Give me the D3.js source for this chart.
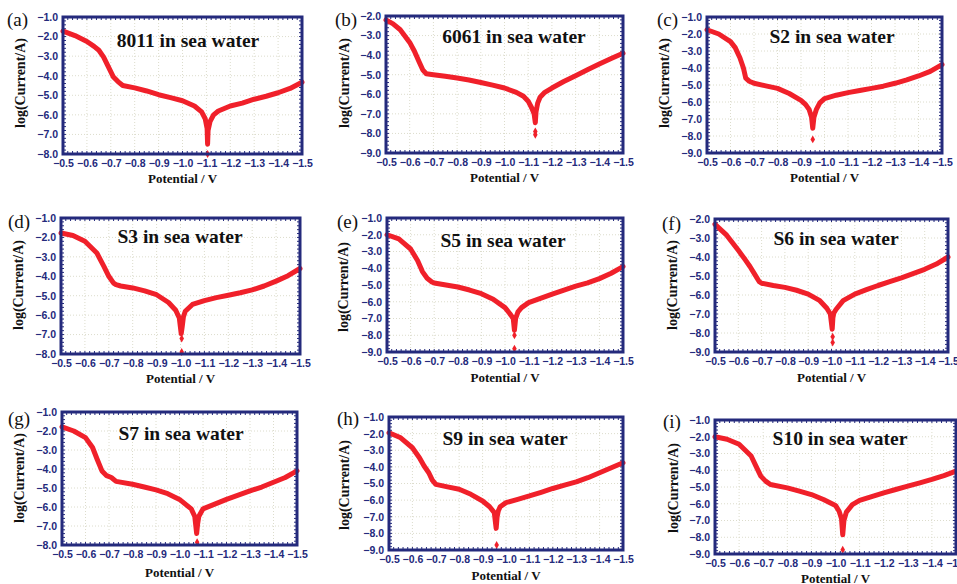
<!DOCTYPE html>
<html><head><meta charset="utf-8">
<script src="https://cdn.jsdelivr.net/npm/d3@7"></script>
<style>body{margin:0;background:#fff}svg{display:block}</style></head>
<body><svg id="c" width="957" height="584"></svg>
<script>
// ---------- data ----------
const xTicks = [-0.5,-0.6,-0.7,-0.8,-0.9,-1.0,-1.1,-1.2,-1.3,-1.4,-1.5];
const yTicks1to8 = [-1,-2,-3,-4,-5,-6,-7,-8];
const yTicks1to9 = [-1,-2,-3,-4,-5,-6,-7,-8,-9];
const yTicks2to9 = [-2,-3,-4,-5,-6,-7,-8,-9];
const panelLabels = ["(a)","(b)","(c)","(d)","(e)","(f)","(g)","(h)","(i)"];
const panelTitles = ["8011 in sea water","6061 in sea water","S2 in sea water","S3 in sea water","S5 in sea water","S6 in sea water","S7 in sea water","S9 in sea water","S10 in sea water"];

const potA = [-0.5,-0.55,-0.6,-0.63,-0.65,-0.67,-0.69,-0.71,-0.73,-0.75,-0.8,-0.85,-0.9,-0.95,-1.0,-1.05,-1.08,-1.095,-1.103,-1.105,-1.107,-1.115,-1.13,-1.15,-1.2,-1.25,-1.3,-1.35,-1.4,-1.45,-1.5];
const curA = [-1.72,-1.95,-2.25,-2.5,-2.7,-3.05,-3.55,-4.05,-4.3,-4.5,-4.62,-4.78,-4.97,-5.12,-5.28,-5.55,-5.85,-6.2,-6.7,-7.5,-6.8,-6.35,-6.0,-5.8,-5.55,-5.4,-5.2,-5.05,-4.87,-4.65,-4.33];
const outPotA = [-1.105], outCurA = [-8.0];

const potB = [-0.5,-0.53,-0.56,-0.6,-0.62,-0.64,-0.655,-0.67,-0.7,-0.75,-0.8,-0.85,-0.9,-0.95,-1.0,-1.05,-1.08,-1.1,-1.115,-1.125,-1.13,-1.133,-1.14,-1.15,-1.17,-1.2,-1.25,-1.3,-1.35,-1.4,-1.45,-1.5];
const curB = [-2.2,-2.4,-2.7,-3.35,-3.8,-4.35,-4.75,-4.95,-5.0,-5.08,-5.17,-5.27,-5.4,-5.53,-5.68,-5.9,-6.1,-6.35,-6.7,-7.0,-7.45,-6.9,-6.45,-6.15,-5.9,-5.68,-5.35,-5.05,-4.75,-4.45,-4.17,-3.9];
const outPotB = [-1.13,-1.13], outCurB = [-7.9,-8.07];

const potC = [-0.5,-0.55,-0.6,-0.62,-0.64,-0.655,-0.665,-0.68,-0.7,-0.75,-0.8,-0.85,-0.9,-0.92,-0.935,-0.945,-0.95,-0.955,-0.965,-0.98,-1.0,-1.05,-1.1,-1.15,-1.2,-1.25,-1.3,-1.35,-1.4,-1.45,-1.5];
const curC = [-1.75,-2.0,-2.45,-2.8,-3.4,-4.0,-4.6,-4.78,-4.9,-5.05,-5.2,-5.5,-5.9,-6.15,-6.45,-6.9,-7.55,-6.9,-6.45,-6.05,-5.8,-5.6,-5.45,-5.32,-5.2,-5.07,-4.9,-4.7,-4.47,-4.2,-3.8];
const outPotC = [-0.95], outCurC = [-8.2];

const potD = [-0.5,-0.55,-0.6,-0.65,-0.68,-0.7,-0.72,-0.73,-0.75,-0.8,-0.85,-0.9,-0.95,-0.98,-0.995,-1.003,-1.007,-1.012,-1.02,-1.05,-1.1,-1.15,-1.2,-1.25,-1.3,-1.35,-1.4,-1.45,-1.5];
const curD = [-1.77,-1.9,-2.2,-2.8,-3.5,-4.0,-4.35,-4.43,-4.5,-4.6,-4.75,-4.95,-5.35,-5.75,-6.15,-6.95,-6.6,-6.1,-5.8,-5.45,-5.25,-5.1,-4.98,-4.85,-4.7,-4.5,-4.25,-3.97,-3.6];
const outPotD = [-1.005,-1.005], outCurD = [-7.2,-7.9];

const potE = [-0.5,-0.55,-0.6,-0.63,-0.65,-0.67,-0.69,-0.7,-0.75,-0.8,-0.85,-0.9,-0.95,-1.0,-1.02,-1.035,-1.04,-1.045,-1.055,-1.07,-1.1,-1.15,-1.2,-1.25,-1.3,-1.35,-1.4,-1.45,-1.5];
const curE = [-2.0,-2.25,-2.85,-3.55,-4.2,-4.6,-4.82,-4.88,-5.0,-5.12,-5.3,-5.52,-5.85,-6.35,-6.7,-7.0,-7.7,-7.0,-6.6,-6.35,-6.05,-5.8,-5.55,-5.3,-5.07,-4.87,-4.62,-4.3,-3.9];
const outPotE = [-1.04,-1.04], outCurE = [-8.0,-8.8];

const potF = [-0.5,-0.55,-0.6,-0.63,-0.65,-0.67,-0.69,-0.7,-0.75,-0.8,-0.85,-0.9,-0.95,-0.98,-0.995,-1.003,-1.006,-1.01,-1.02,-1.05,-1.1,-1.15,-1.2,-1.25,-1.3,-1.35,-1.4,-1.45,-1.5];
const curF = [-2.28,-2.85,-3.65,-4.15,-4.5,-4.9,-5.3,-5.38,-5.5,-5.6,-5.75,-5.95,-6.3,-6.7,-7.0,-7.8,-7.2,-6.95,-6.75,-6.3,-5.95,-5.72,-5.5,-5.3,-5.1,-4.88,-4.65,-4.37,-4.0];
const outPotF = [-1.005,-1.005], outCurF = [-8.2,-8.5];

const potG = [-0.5,-0.55,-0.6,-0.63,-0.65,-0.67,-0.69,-0.71,-0.73,-0.8,-0.85,-0.9,-0.95,-1.0,-1.05,-1.065,-1.073,-1.077,-1.082,-1.1,-1.15,-1.2,-1.25,-1.3,-1.35,-1.4,-1.45,-1.5];
const curG = [-1.78,-2.0,-2.35,-2.87,-3.5,-4.1,-4.35,-4.45,-4.65,-4.8,-4.95,-5.1,-5.3,-5.6,-6.1,-6.5,-7.4,-6.9,-6.5,-6.1,-5.85,-5.6,-5.38,-5.15,-4.95,-4.7,-4.45,-4.1];
const outPotG = [-1.075], outCurG = [-7.85];

const potH = [-0.5,-0.55,-0.6,-0.63,-0.65,-0.67,-0.685,-0.7,-0.75,-0.8,-0.85,-0.9,-0.93,-0.95,-0.958,-0.962,-0.967,-0.975,-1.0,-1.05,-1.1,-1.15,-1.2,-1.25,-1.3,-1.35,-1.4,-1.45,-1.5];
const curH = [-1.95,-2.25,-2.85,-3.45,-3.95,-4.35,-4.8,-5.05,-5.2,-5.35,-5.65,-6.05,-6.4,-6.75,-7.7,-7.0,-6.65,-6.4,-6.15,-5.95,-5.75,-5.53,-5.3,-5.1,-4.9,-4.65,-4.35,-4.05,-3.75];
const outPotH = [-0.96], outCurH = [-8.7];

const potI = [-0.5,-0.55,-0.6,-0.65,-0.67,-0.69,-0.71,-0.73,-0.8,-0.85,-0.9,-0.95,-1.0,-1.015,-1.025,-1.03,-1.035,-1.045,-1.07,-1.1,-1.15,-1.2,-1.25,-1.3,-1.35,-1.4,-1.45,-1.5];
const curI = [-2.0,-2.15,-2.45,-3.15,-3.75,-4.35,-4.65,-4.85,-5.05,-5.25,-5.45,-5.75,-6.1,-6.45,-6.9,-7.85,-7.0,-6.5,-6.05,-5.8,-5.58,-5.35,-5.15,-4.95,-4.75,-4.55,-4.32,-4.05];
const outPotI = [-1.03], outCurI = [-8.75];

// ---------- layout ----------
const series = [
  [potA,curA,outPotA,outCurA,yTicks1to8],
  [potB,curB,outPotB,outCurB,yTicks2to9],
  [potC,curC,outPotC,outCurC,yTicks1to9],
  [potD,curD,outPotD,outCurD,yTicks1to8],
  [potE,curE,outPotE,outCurE,yTicks1to9],
  [potF,curF,outPotF,outCurF,yTicks2to9],
  [potG,curG,outPotG,outCurG,yTicks1to8],
  [potH,curH,outPotH,outCurH,yTicks1to9],
  [potI,curI,outPotI,outCurI,yTicks1to9]
];
const layout = [
  {L:63, R:302,T:17, B:154, lx:7,  ly:26, tx:188, ty:47, yx:20, yy:83, xy:183},
  {L:386,R:623,T:16, B:153, lx:335,ly:26, tx:514, ty:43, yx:344,yy:83, xy:182},
  {L:707,R:942,T:17, B:153, lx:657,ly:26, tx:832, ty:43, yx:664,yy:83, xy:182},
  {L:61, R:300,T:218,B:354, lx:8,  ly:228,tx:180, ty:243,yx:18, yy:285,xy:383},
  {L:387,R:623,T:218,B:352, lx:337,ly:228,tx:503, ty:247,yx:343,yy:287,xy:382},
  {L:715,R:948,T:219,B:352, lx:662,ly:230,tx:836, ty:245,yx:672,yy:285,xy:382},
  {L:62, R:297,T:412,B:545, lx:8,  ly:425,tx:181, ty:440,yx:19, yy:478,xy:577},
  {L:389,R:623,T:417,B:550, lx:337,ly:425,tx:505, ty:445,yx:344,yy:485,xy:580},
  {L:715,R:956,T:420,B:554, lx:663,ly:428,tx:840, ty:445,yx:673,yy:488,xy:583}
];

const NAVY = "#242a7c", RED = "#f0202a", GRID = "#dcdccc";
const svg = d3.select("#c");

series.forEach((s, i) => {
  const [pot, cur, op, oc, yt] = s;
  const lo = layout[i];
  const x = d3.scaleLinear().domain([-0.5,-1.5]).range([lo.L, lo.R]);
  const y = d3.scaleLinear().domain([yt[0], yt[yt.length-1]]).range([lo.T, lo.B]);
  const g = svg.append("g");

  // grid
  g.selectAll(".gx").data(xTicks.slice(1,-1)).join("line")
    .attr("x1", d=>x(d)).attr("x2", d=>x(d)).attr("y1", lo.T).attr("y2", lo.B)
    .attr("stroke", GRID).attr("stroke-dasharray","1,2").attr("stroke-width",1);
  g.selectAll(".gy").data(yt.slice(1,-1)).join("line")
    .attr("y1", d=>y(d)).attr("y2", d=>y(d)).attr("x1", lo.L).attr("x2", lo.R)
    .attr("stroke", GRID).attr("stroke-dasharray","1,2").attr("stroke-width",1);

  // minor ticks
  const xm = d3.range(0, 51).map(k => -0.5 - k*0.02);
  const ym = d3.range(0, (yt.length-1)*5+1).map(k => yt[0] - k*0.2);
  const mt = g.append("g").attr("stroke", NAVY).attr("stroke-width", 1);
  xm.forEach(v => {
    mt.append("line").attr("x1", x(v)).attr("x2", x(v)).attr("y1", lo.T).attr("y2", lo.T+3);
    mt.append("line").attr("x1", x(v)).attr("x2", x(v)).attr("y1", lo.B).attr("y2", lo.B-3);
  });
  ym.forEach(v => {
    mt.append("line").attr("y1", y(v)).attr("y2", y(v)).attr("x1", lo.L).attr("x2", lo.L+3);
    mt.append("line").attr("y1", y(v)).attr("y2", y(v)).attr("x1", lo.R).attr("x2", lo.R-3);
  });

  // data
  const line = d3.line().x(d=>x(d[0])).y(d=>y(d[1]));
  g.append("path").datum(pot.map((p,k)=>[p,cur[k]]))
    .attr("d", line).attr("fill","none").attr("stroke",RED)
    .attr("stroke-width",5).attr("stroke-linejoin","round").attr("stroke-linecap","round");
  const sym = d3.symbol().type(d3.symbolDiamond).size(18);
  g.selectAll(".o").data(op.map((p,k)=>[p,oc[k]])).join("path")
    .attr("d", sym).attr("transform", d=>`translate(${x(d[0])},${y(d[1])})`).attr("fill", RED);

  // frame
  g.append("rect").attr("x", lo.L).attr("y", lo.T).attr("width", lo.R-lo.L).attr("height", lo.B-lo.T)
    .attr("fill","none").attr("stroke",NAVY).attr("stroke-width",3);

  // axes labels
  const xa = d3.axisBottom(x).tickValues(xTicks).tickFormat(d3.format(".1f")).tickSize(0).tickPadding(4);
  g.append("g").attr("transform",`translate(0,${lo.B+2})`).call(xa)
    .call(a=>a.select(".domain").remove())
    .selectAll("text").attr("fill",NAVY).attr("font-family","Liberation Sans, Arial, sans-serif")
    .attr("font-weight","bold").attr("font-size","10.5px");
  const ya = d3.axisLeft(y).tickValues(yt).tickFormat(d3.format(".1f")).tickSize(0).tickPadding(4);
  g.append("g").attr("transform",`translate(${lo.L-1},0)`).call(ya)
    .call(a=>a.select(".domain").remove())
    .selectAll("text").attr("fill",NAVY).attr("font-family","Liberation Sans, Arial, sans-serif")
    .attr("font-weight","bold").attr("font-size","10.5px");

  const serif = "Liberation Serif, Times New Roman, serif";
  g.append("text").attr("x",(lo.L+lo.R)/2).attr("y",lo.xy).attr("text-anchor","middle")
    .attr("font-family",serif).attr("font-weight","bold").attr("font-size","13px").attr("fill","#111")
    .text("Potential / V");
  g.append("text").attr("transform",`translate(${lo.yx},${lo.yy}) rotate(-90)`)
    .attr("text-anchor","middle").attr("dominant-baseline","central")
    .attr("font-family",serif).attr("font-weight","bold").attr("font-size","14px").attr("fill","#111")
    .text("log(Current/A)");
  g.append("text").attr("x",lo.tx).attr("y",lo.ty).attr("text-anchor","middle")
    .attr("font-family",serif).attr("font-weight","bold").attr("font-size","19.5px").attr("fill","#111")
    .text(panelTitles[i]);
  g.append("text").attr("x",lo.lx).attr("y",lo.ly)
    .attr("font-family",serif).attr("font-size","19px").attr("fill","#111")
    .text(panelLabels[i]);
});
</script></body></html>
